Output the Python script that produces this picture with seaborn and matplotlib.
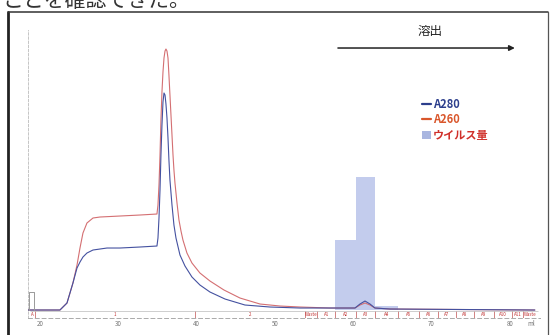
import seaborn as sns
import matplotlib.pyplot as plt
from matplotlib.lines import Line2D
from matplotlib.patches import Patch

# Elution volume (ml) and absorbance (mAU)
a260_ml = [18.5, 22.55, 23.45, 24.21, 24.73, 25.11, 25.49, 26.00, 26.77, 27.66, 30.22, 32.77,
           34.94, 35.07, 35.20, 35.33, 35.45, 35.58, 35.71, 35.84, 35.97, 36.09, 36.22, 36.35,
           36.47, 36.60, 36.73, 36.86, 36.99, 37.11, 37.24, 37.50, 37.75, 38.01, 38.26, 38.77,
           39.41, 40.43, 41.71, 43.50, 45.54, 48.10, 50.65, 53.21, 57.04, 60.23, 60.87, 61.51,
           62.15, 62.78, 64.70, 83.2]
a260_mau = [0, 0, 70, 270, 450, 620, 770, 870, 920, 930, 940, 950,
            960, 1050, 1250, 1550, 1900, 2180, 2380, 2520, 2590, 2610, 2590, 2520,
            2350, 2150, 1950, 1750, 1550, 1400, 1270, 1070, 900, 790, 700, 570,
            470, 370, 290, 200, 120, 60, 40, 30, 20, 20, 50, 70,
            50, 20, 10, 0]

a280_ml = [18.5, 22.55, 23.45, 24.21, 24.73, 25.11, 25.49, 26.00, 26.77, 28.56, 30.22, 32.77,
           34.94, 35.07, 35.20, 35.33, 35.45, 35.58, 35.71, 35.84, 35.97, 36.09, 36.22, 36.35,
           36.47, 36.60, 36.86, 37.11, 37.37, 37.88, 38.52, 39.41, 40.43, 41.71, 43.63, 46.18,
           49.37, 53.21, 60.23, 60.87, 61.51, 62.15, 62.78, 64.70, 83.2]
a280_mau = [0, 0, 70, 270, 420, 480, 530, 570, 600, 620, 620, 630,
            640, 720, 920, 1200, 1550, 1850, 2080, 2170, 2150, 2060, 1920, 1720,
            1500, 1300, 1050, 850, 720, 550, 440, 330, 250, 180, 110, 50,
            30, 20, 20, 60, 90, 60, 20, 10, 0]

# injection mark
inject_ml = [18.6, 18.6, 19.3, 19.3]
inject_mau = [0, 180, 180, 0]

# virus titre per fraction (relative)
virus_edges = [57.7, 60.4, 62.8, 65.7]
virus_amount = [7.0, 13.3, 0.4]

# fraction collector marks
frac_edges = [18.7, 19.4, 39.8, 53.8, 55.4, 57.7, 60.4, 62.8, 65.7, 68.4, 70.8,
              73.1, 75.4, 78.0, 80.3, 81.7, 83.6]
frac_labels = ['A', '1', '2', 'Waste', 'A1', 'A2', 'A3', 'A4', 'A5', 'A6', 'A7',
               'A8', 'A9', 'A10', 'A11', 'Waste']

tick_ml = [20, 30, 40, 50, 60, 70, 80, 82.7]
tick_labels = ['20', '30', '40', '50', '60', '70', '80', 'ml']

sns.set_style('white')
plt.rcParams['font.family'] = ['Noto Sans CJK JP', 'DejaVu Sans']

fig = plt.figure(figsize=(5.5, 3.35), dpi=100)
ax = fig.add_axes([0.0509, 0.0507, 0.9309, 0.8597])
ax2 = ax.twinx()

# virus bars (back)
centers = [(virus_edges[i] + virus_edges[i + 1]) / 2 for i in range(len(virus_amount))]
sns.histplot(x=centers, weights=virus_amount, bins=virus_edges, ax=ax,
             color='#b9c3ea', alpha=0.85, edgecolor='none', linewidth=0)
ax.set_ylim(-0.8, 28.0)

# absorbance curves (front)
sns.lineplot(x=a260_ml, y=a260_mau, ax=ax2, sort=False, estimator=None,
             color='#d46f72', lw=0.8)
sns.lineplot(x=a280_ml, y=a280_mau, ax=ax2, sort=False, estimator=None,
             color='#4451a0', lw=0.8)
sns.lineplot(x=inject_ml, y=inject_mau, ax=ax2, sort=False, estimator=None,
             color='#999999', lw=0.7)
ax2.set_ylim(-80, 2800)

for a in (ax, ax2):
    a.set_xlim(18.47, 83.86)
    a.set_ylabel('')
    a.set_yticks([])
    for s in ('top', 'right'):
        a.spines[s].set_visible(False)
ax2.spines['left'].set_visible(False)
ax2.spines['bottom'].set_visible(False)
ax.spines['left'].set_linestyle((0, (3, 2)))
ax.spines['left'].set_color('#bbbbbb')
ax.spines['left'].set_linewidth(0.6)
ax.spines['bottom'].set_linestyle((0, (4, 3)))
ax.spines['bottom'].set_color('#aaaaaa')
ax.spines['bottom'].set_linewidth(0.7)

ax.set_xticks(tick_ml)
ax.set_xticklabels(tick_labels)
ax.tick_params(axis='x', length=0, pad=1.5, labelsize=4.5, labelcolor='#777777')
ax.set_xlabel('')

# fraction boxes along the baseline
ax2.vlines(frac_edges[1:-1], -75, -5, color='#c05050', lw=0.5)
ax2.hlines(-5, frac_edges[0], frac_edges[-1], color='#aaaaaa', lw=0.4)
for i, lab in enumerate(frac_labels):
    mid = (frac_edges[i] + frac_edges[i + 1]) / 2
    ax2.text(mid, -40, lab, fontsize=3.2, color='#c03030', ha='center', va='center')

# elution arrow
ax2.annotate('', xy=(81.0, 2620), xytext=(57.7, 2620),
             arrowprops=dict(arrowstyle='-|>', color='#222222', lw=1.1,
                             mutation_scale=8), annotation_clip=False)
ax2.text(69.8, 2790, '溶出', fontsize=9, ha='center', va='center', color='#222222')

# legend
handles = [Line2D([], [], color='#2c3e8c', lw=1.6),
           Line2D([], [], color='#d9562b', lw=1.6),
           Patch(facecolor='#a9b6e0', edgecolor='none')]
leg = ax2.legend(handles, ['A280', 'A260', 'ウイルス量'],
                 loc='upper left', bbox_to_anchor=(0.76, 0.72),
                 bbox_transform=fig.transFigure, frameon=False,
                 handlelength=0.8, handleheight=0.8, handletextpad=0.15,
                 labelspacing=0.2, borderaxespad=0,
                 prop={'size': 8, 'weight': 'bold'},
                 labelcolor=['#2c3e8c', '#d9562b', '#d0302a'])

# surrounding frame of the scanned figure
fig.add_artist(Line2D([0.0145, 0.0145], [0, 0.964], color='#222222', lw=2.0))
fig.add_artist(Line2D([0.0145, 0.997], [0.964, 0.964], color='#333333', lw=1.1))
fig.add_artist(Line2D([0.997, 0.997], [0, 0.964], color='#555555', lw=0.9))

# cut-off sentence from the page above
fig.text(0.004, 1 - 7 / 335, 'ことを確認できた。', fontsize=15, va='baseline',
         color='#333333')

fig.savefig('out.png', dpi=100)
